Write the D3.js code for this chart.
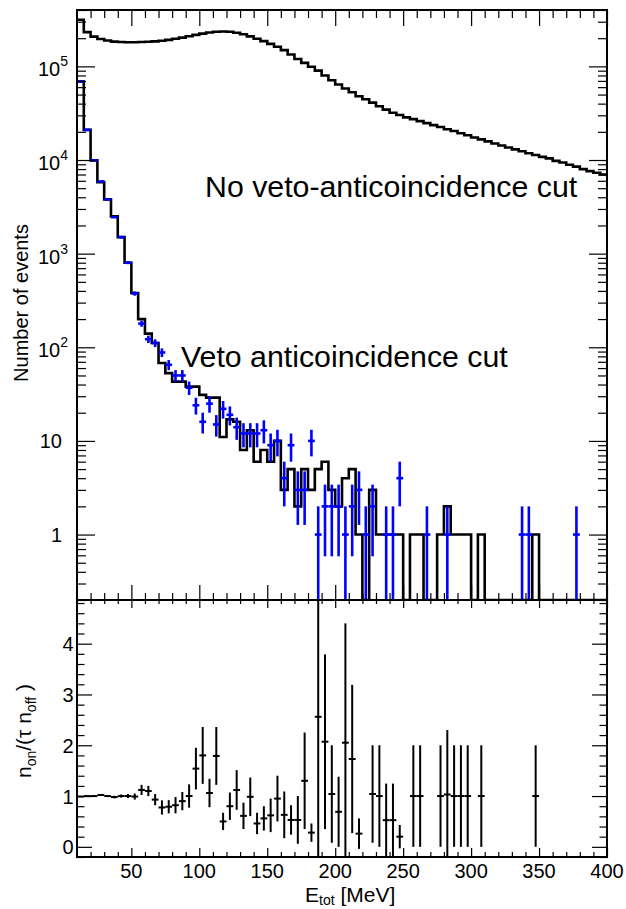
<!DOCTYPE html>
<html><head><meta charset="utf-8">
<script src="https://cdn.jsdelivr.net/npm/d3@7"></script>
<style>
body{margin:0;background:#fff;}
svg{display:block;}
text{font-family:"Liberation Sans",Arial,Helvetica,sans-serif;fill:#000;}
</style>
</head><body>
<svg id="c" width="626" height="909"></svg>
<script>
// ---------- DATA ----------
const binLow = [10,15,20,25,30,35,40,45,50,55,60,65,70,75,80,85,90,95,100,105,110,115,120,125,130,135,140,145,150,155,160,165,170,175,180,185,190,195,200,205,210,215,220,225,230,235,240,245,250,255,260,265,270,275,280,285,290,295,300,305,310,315,320,325,330,335,340,345,350,355,360,365,370,375,380,385,390,395];
const binWidth = 5;

// No veto-anticoincidence cut (black, upper histogram)
const noVeto = [315000,232000,208000,196000,189000,184000,182000,181000,181000,182000,183000,185000,188000,192000,197000,203000,210000,217000,224000,230000,234000,236000,234000,229000,220000,209000,197000,186000,174000,162000,149000,134000,120000,109000,99000,90000,80000,71000,64000,58000,53000,48000,44500,41000,37500,34500,32000,30200,28500,27300,26000,24800,23600,22500,21300,20400,19300,18400,17400,16600,15800,15000,14300,13600,13000,12400,11800,11300,10800,10400,9800,9400,8900,8500,8000,7600,7300,7000];

// Veto anticoincidence cut (black histogram)
const vetoCut = [69000,21000,9900,5800,3800,2500,1500,800,380,200,140,111,68,53,43,43,38,38,31,29,29,11,17,16,8,13,6,8,6,10,3,5,2,5,3,5,6,3,2,4,5,1,0,3,1,1,1,1,0,1,1,0,0,1,2,1,1,1,0,1,0,0,0,0,0,0,0,1,0,0,0,0,0,0,0,0,0,0];

// Data points (blue), null = no point
const onData = [69000,21000,9900,5900,3800,2450,1500,800,375,179,122,111,88,65,50,50,37,24,16,25,15,22,19,14,12,12,12,13,9,10,4,9,3,3,10,1,2,2,2,1,2,3,1,2,null,1,1,4,null,null,null,1,null,null,1,null,null,null,null,null,null,null,null,null,null,1,1,null,null,null,null,null,null,1,null,null,null,null];

// Ratio n_on/(tau n_off) and its errors (bottom panel)
const ratio = [0.99,1.0,1.0,1.02,1.0,0.98,1.0,1.0,0.99,1.12,1.10,0.93,0.775,0.79,0.82,0.90,1.0,1.54,1.80,1.06,1.79,0.50,0.80,1.12,0.61,0.985,0.46,0.56,0.62,0.95,0.63,0.53,0.53,1.30,0.28,2.56,2.07,1.04,0.69,2.05,1.73,0.26,null,1.04,1.0,0.525,0.525,0.20,null,1.0,1.0,null,null,1.0,1.03,1.0,1.0,1.0,null,1.0,null,null,null,null,null,null,null,1.0,null,null,null,null,null,null,null,null,null,null];
const ratioErr = [0.005,0.008,0.01,0.015,0.02,0.025,0.03,0.04,0.06,0.10,0.10,0.11,0.14,0.13,0.16,0.18,0.23,0.41,0.56,0.28,0.57,0.17,0.27,0.39,0.26,0.38,0.21,0.24,0.33,0.45,0.46,0.29,0.47,0.95,0.18,2.8,1.72,0.96,0.69,2.35,1.46,0.30,null,0.96,1.0,0.72,0.72,0.23,null,1.0,1.0,null,null,1.0,1.27,1.0,1.0,1.0,null,1.0,null,null,null,null,null,null,null,1.0,null,null,null,null,null,null,null,null,null,null];

// Ticks and labels
const xTickValues = [50,100,150,200,250,300,350,400];
const xTickLabels = ["50","100","150","200","250","300","350","400"];
const yTopTickValues = [1,10,100,1000,10000,100000];
const yTopTickBase = ["1","10","10","10","10","10"];
const yTopTickExp  = [null,null,"2","3","4","5"];
const yBotTickValues = [0,1,2,3,4];
const yBotTickLabels = ["0","1","2","3","4"];

// ---------- LAYOUT ----------
const L = 77, R = 607, T1 = 10, B1 = 600, T2 = 600, B2 = 857;
const svg = d3.select("#c");

const x = d3.scaleLinear().domain([10, 400]).range([L, R]);
const yTop = d3.scaleLog().domain([0.2, 4e5]).range([B1, T1]).clamp(true);
const yBot = d3.scaleLinear().domain([-0.2, 4.86]).range([B2, T2]).clamp(true);
const yT = v => (v > 0 ? yTop(v) : B1);

const defs = svg.append("defs");
defs.append("clipPath").attr("id", "clipTop").append("rect")
  .attr("x", L).attr("y", T1).attr("width", R - L).attr("height", B1 - T1);
defs.append("clipPath").attr("id", "clipBot").append("rect")
  .attr("x", L).attr("y", T2).attr("width", R - L).attr("height", B2 - T2);

// ---------- TOP PANEL ----------
const gTop = svg.append("g").attr("clip-path", "url(#clipTop)");

function stepPath(vals) {
  const pts = binLow.map((b, i) => [b, vals[i]]);
  pts.push([binLow[binLow.length - 1] + binWidth, vals[vals.length - 1]]);
  return d3.line().x(d => x(d[0])).y(d => yT(d[1])).curve(d3.curveStepAfter)(pts);
}

gTop.append("path").attr("d", stepPath(noVeto))
  .attr("fill", "none").attr("stroke", "#000").attr("stroke-width", 2.6);
gTop.append("path").attr("d", stepPath(vetoCut))
  .attr("fill", "none").attr("stroke", "#000").attr("stroke-width", 2.6);

const onPts = binLow.map((b, i) => ({ b, v: onData[i] })).filter(d => d.v != null);
const blue = gTop.append("g").attr("stroke", "#0000ff").attr("stroke-width", 2.6).attr("fill", "none");
blue.selectAll("line.v").data(onPts).join("line").attr("class", "v")
  .attr("x1", d => x(d.b + binWidth / 2)).attr("x2", d => x(d.b + binWidth / 2))
  .attr("y1", d => yT(d.v - Math.sqrt(d.v))).attr("y2", d => yT(d.v + Math.sqrt(d.v)));
blue.selectAll("line.h").data(onPts).join("line").attr("class", "h")
  .attr("x1", d => x(d.b)).attr("x2", d => x(d.b + binWidth))
  .attr("y1", d => yT(d.v)).attr("y2", d => yT(d.v));

// ---------- BOTTOM PANEL ----------
const gBot = svg.append("g").attr("clip-path", "url(#clipBot)");
const rPts = binLow.map((b, i) => ({ b, v: ratio[i], e: ratioErr[i] })).filter(d => d.v != null);
const blk = gBot.append("g").attr("stroke", "#000").attr("stroke-width", 2).attr("fill", "none");
blk.selectAll("line.v").data(rPts).join("line").attr("class", "v")
  .attr("x1", d => x(d.b + binWidth / 2)).attr("x2", d => x(d.b + binWidth / 2))
  .attr("y1", d => yBot(d.v - d.e)).attr("y2", d => yBot(d.v + d.e));
blk.selectAll("line.h").data(rPts).join("line").attr("class", "h")
  .attr("x1", d => x(d.b)).attr("x2", d => x(d.b + binWidth))
  .attr("y1", d => yBot(d.v)).attr("y2", d => yBot(d.v));

// ---------- AXES / TICKS ----------
const xMinor = d3.range(20, 400, 10).filter(v => v % 50 !== 0);
const yTopMinor = [];
for (let d = -1; d <= 5; d++) for (let k = 2; k <= 9; k++) {
  const v = k * Math.pow(10, d);
  if (v >= 0.2 && v <= 4e5) yTopMinor.push(v);
}
const yBotMinor = d3.range(-0.2, 4.85, 0.2).map(v => +v.toFixed(2)).filter(v => Math.abs(v - Math.round(v)) > 1e-6);

function ticks(axisGen, scale, vals, size, tx, ty) {
  const g = svg.append("g").attr("transform", `translate(${tx},${ty})`)
    .call(axisGen(scale).tickValues(vals).tickSize(size).tickFormat(""));
  g.select(".domain").remove();
  g.selectAll("line").attr("stroke", "#000").attr("stroke-width", 1.2);
}
// top panel
ticks(d3.axisRight, yTop, yTopTickValues, 18, L, 0);
ticks(d3.axisRight, yTop, yTopMinor, 9, L, 0);
ticks(d3.axisLeft, yTop, yTopTickValues, 18, R, 0);
ticks(d3.axisLeft, yTop, yTopMinor, 9, R, 0);
ticks(d3.axisBottom, x, xTickValues, 16, 0, T1);
ticks(d3.axisBottom, x, xMinor, 8, 0, T1);
ticks(d3.axisTop, x, xTickValues, 15, 0, B1);
ticks(d3.axisTop, x, xMinor, 7, 0, B1);
// bottom panel
ticks(d3.axisRight, yBot, yBotTickValues, 15, L, 0);
ticks(d3.axisRight, yBot, yBotMinor, 7.5, L, 0);
ticks(d3.axisLeft, yBot, yBotTickValues, 15, R, 0);
ticks(d3.axisLeft, yBot, yBotMinor, 7.5, R, 0);
ticks(d3.axisBottom, x, xTickValues, 8, 0, T2);
ticks(d3.axisBottom, x, xMinor, 4, 0, T2);
ticks(d3.axisTop, x, xTickValues, 9, 0, B2);
ticks(d3.axisTop, x, xMinor, 5, 0, B2);

// frames
svg.append("rect").attr("x", L).attr("y", T1).attr("width", R - L).attr("height", B1 - T1)
  .attr("fill", "none").attr("stroke", "#000").attr("stroke-width", 2);
svg.append("rect").attr("x", L).attr("y", T2).attr("width", R - L).attr("height", B2 - T2)
  .attr("fill", "none").attr("stroke", "#000").attr("stroke-width", 2);

// ---------- LABELS ----------
yTopTickValues.forEach((v, i) => {
  const hasExp = yTopTickExp[i] != null;
  const t = svg.append("text").attr("text-anchor", "end")
    .attr("x", hasExp ? 68 : 62).attr("y", yTop(v) + (hasExp ? 10 : 7.5))
    .attr("font-size", 20);
  t.append("tspan").text(yTopTickBase[i]);
  if (hasExp) t.append("tspan").attr("dy", -10).attr("font-size", 14).text(yTopTickExp[i]);
});
yBotTickValues.forEach((v, i) => {
  svg.append("text").attr("text-anchor", "end").attr("x", 73.5).attr("y", yBot(v) + 7.5)
    .attr("font-size", 20).text(yBotTickLabels[i]);
});
xTickValues.forEach((v, i) => {
  svg.append("text").attr("text-anchor", "middle").attr("x", x(v)).attr("y", 878)
    .attr("font-size", 20).text(xTickLabels[i]);
});

// axis titles
svg.append("text").attr("transform", "translate(28,303) rotate(-90)")
  .attr("text-anchor", "middle").attr("font-size", 20).text("Number of events");

const rt = svg.append("text").attr("transform", "translate(31,731) rotate(-90)")
  .attr("text-anchor", "middle").attr("font-size", 21);
rt.append("tspan").text("n");
rt.append("tspan").attr("font-size", 14).attr("dy", 5).text("on");
rt.append("tspan").attr("dy", -5).text("/(τ n");
rt.append("tspan").attr("font-size", 14).attr("dy", 5).text("off");
rt.append("tspan").attr("dy", -5).text(" )");

const xt = svg.append("text").attr("x", 305).attr("y", 902).attr("font-size", 21);
xt.append("tspan").text("E");
xt.append("tspan").attr("font-size", 14).attr("dy", 3).text("tot");
xt.append("tspan").attr("dy", -3).text(" [MeV]");

// annotations
svg.append("text").attr("x", 205).attr("y", 197).attr("font-size", 30.3)
  .text("No veto-anticoincidence cut");
svg.append("text").attr("x", 181).attr("y", 367).attr("font-size", 30.3)
  .text("Veto anticoincidence cut");
</script>
</body></html>
